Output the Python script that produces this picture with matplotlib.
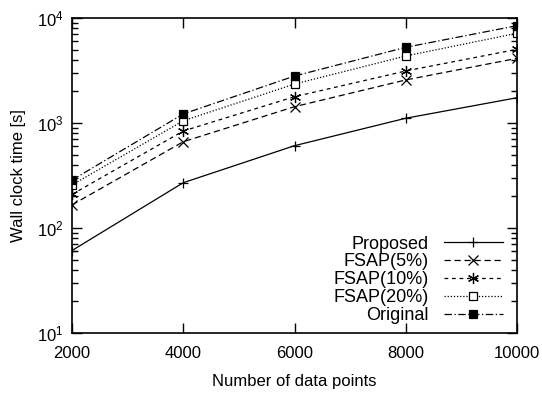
import numpy as np
import matplotlib
matplotlib.use('Agg')
import matplotlib.pyplot as plt
from matplotlib.ticker import LogLocator, NullFormatter

plt.rcParams['font.family'] = ['Liberation Sans', 'DejaVu Sans']

# Veriler
n_points = [2000, 4000, 6000, 8000, 10000]
proposed = [61, 270, 608, 1110, 1740]
fsap5 = [166, 663, 1430, 2570, 4130]
fsap10 = [209, 839, 1780, 3130, 5030]
fsap20 = [257, 1050, 2350, 4350, 7150]
original = [286, 1220, 2800, 5260, 8450]

fig = plt.figure(figsize=(5.42, 3.94), dpi=100)
ax = fig.add_axes([72 / 542, 1 - 333 / 394, (517 - 72) / 542, (333 - 18) / 394])

ax.plot(n_points, proposed, color='black', lw=0.9, ls='-', marker='+', ms=7, mew=0.9, label='Proposed')
ax.plot(n_points, fsap5, color='black', lw=0.9, ls=(0, (5, 3)), marker='x', ms=7, mew=0.9, label='FSAP(5%)')
ax.plot(n_points, fsap10, color='black', lw=0.9, ls=(0, (3, 3)), marker=(6, 2, 0), ms=8, mew=0.9, label='FSAP(10%)')
ax.plot(n_points, fsap20, color='black', lw=0.9, ls=(0, (1, 1.5)), marker='s', ms=5.5, mfc='white', mew=0.9, label='FSAP(20%)')
ax.plot(n_points, original, color='black', lw=0.9, ls=(0, (6, 2, 1, 2)), marker='s', ms=6, mew=0.9, label='Original')

ax.set_yscale('log')
ax.set_xlim(2000, 10000)
ax.set_ylim(10, 10000)
ax.set_xticks(n_points)
ax.yaxis.set_minor_locator(LogLocator(base=10, subs=np.arange(2, 10)))
ax.yaxis.set_minor_formatter(NullFormatter())

ax.tick_params(which='both', direction='in', top=True, right=True, labelsize=12)
ax.tick_params(which='major', length=7, width=1)
ax.tick_params(which='minor', length=4, width=1)
ax.tick_params(axis='x', which='major', pad=9)
ax.tick_params(axis='y', which='major', pad=6)
for s in ax.spines.values():
    s.set_linewidth(1.2)

ax.set_xlabel('Number of data points', fontsize=12, labelpad=10)
ax.set_ylabel('Wall clock time [s]', fontsize=12, labelpad=8)

ax.legend(loc='lower right', frameon=False, markerfirst=False, fontsize=13,
          handlelength=3.3, handletextpad=0.8, labelspacing=0.05,
          borderaxespad=0.0, bbox_to_anchor=(0.985, 0.005))

plt.savefig('out.png', dpi=100)
